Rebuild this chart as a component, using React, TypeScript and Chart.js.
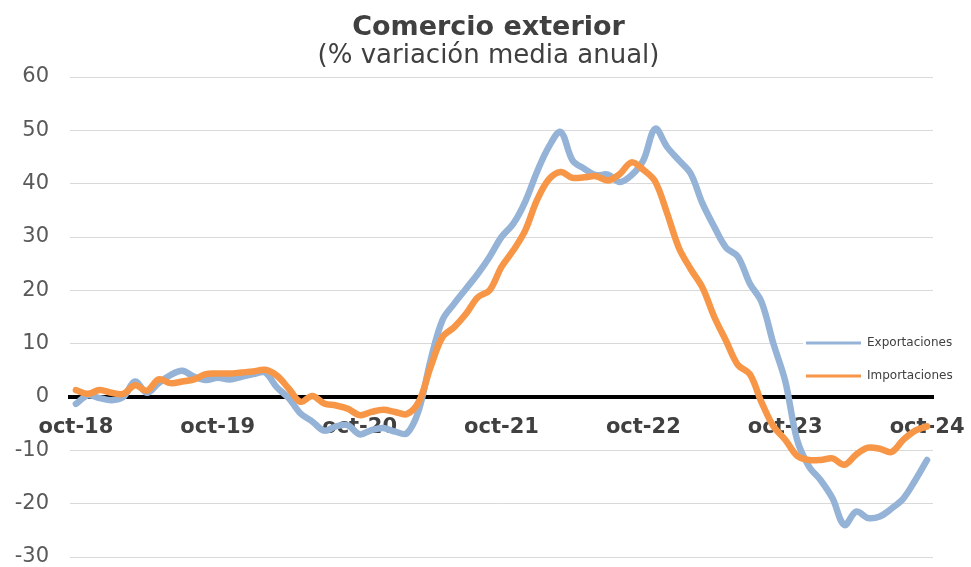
import React, { useEffect, useRef } from "react";
import { Chart, registerables } from "chart.js";

Chart.register(...registerables);

const monthNames = ["oct", "nov", "dic", "ene", "feb", "mar", "abr", "may", "jun", "jul", "ago", "sep"];
const startYear = 18;
const monthCount = 73;
const categories: string[] = [];
for (let i = 0; i < monthCount; i++) {
  const m = monthNames[i % 12];
  const yr = startYear + Math.floor((i + 9) / 12);
  categories.push(`${m}-${yr}`);
}

const exportaciones = [
  -1.3, 0.3, -0.2, -0.6, 0.0, 2.9, 0.8, 2.6, 4.1, 4.9, 3.8, 3.2,
  3.6, 3.3, 3.8, 4.3, 4.6, 1.8, -0.2, -3.1, -4.6, -6.3, -5.5, -5.3,
  -7.0, -6.2, -5.8, -6.5, -6.8, -2.5, 6.9, 14.4, 17.5, 20.3, 23.1, 26.3,
  30.0, 32.5, 36.6, 42.2, 46.9, 49.7, 44.4, 42.8, 41.6, 41.7, 40.3, 41.6,
  44.4, 50.3, 46.9, 44.4, 41.9, 36.3, 31.9, 28.0, 26.3, 21.3, 17.8, 10.0,
  3.0, -8.0, -13.0, -15.6, -19.0, -24.0, -21.5, -22.7, -22.4, -20.9, -19.0, -15.6,
  -11.8,
];

const importaciones = [
  1.3, 0.6, 1.3, 0.8, 0.6, 2.2, 1.2, 3.3, 2.6, 2.9, 3.3, 4.3,
  4.4, 4.4, 4.6, 4.8, 5.1, 4.0, 1.6, -0.9, 0.2, -1.2, -1.6, -2.2,
  -3.4, -2.8, -2.4, -2.8, -3.2, -0.9, 5.6, 11.2, 13.1, 15.6, 18.7, 20.0,
  24.4, 27.5, 31.2, 36.9, 40.8, 42.2, 41.1, 41.2, 41.4, 40.6, 41.8, 44.0,
  42.6, 40.4, 34.5, 28.0, 24.0, 20.5, 15.0, 10.5, 6.0, 4.3, -1.0, -5.5,
  -8.0, -11.0, -11.8, -11.8, -11.5, -12.7, -10.8, -9.5, -9.7, -10.3, -8.0, -6.3,
  -5.5,
];

const seriesNames = ["Exportaciones", "Importaciones"];
const seriesColors = ["rgb(149,179,215)", "rgb(247,150,70)"];

const FONT = "'DejaVu Sans', Verdana, sans-serif";

const legendPlugin = {
  id: "insideLegend",
  afterDatasetsDraw(chart: any) {
    const { ctx, chartArea } = chart;
    const x0 = chartArea.right - 127;
    const ys = [343, 376];
    ctx.save();
    ctx.fillStyle = "#ffffff";
    ctx.fillRect(x0 - 3, 332, 160, 56);
    chart.data.datasets.forEach((ds: any, k: number) => {
      const y = ys[k];
      ctx.strokeStyle = ds.borderColor;
      ctx.lineWidth = 3;
      ctx.beginPath();
      ctx.moveTo(x0, y);
      ctx.lineTo(x0 + 55, y);
      ctx.stroke();
      ctx.fillStyle = "#404040";
      ctx.font = `12px ${FONT}`;
      ctx.textBaseline = "middle";
      ctx.textAlign = "left";
      ctx.fillText(ds.label, x0 + 61, y);
    });
    ctx.restore();
  },
};

export default function App() {
  const canvasRef = useRef<HTMLCanvasElement>(null);

  useEffect(() => {
    const canvas = canvasRef.current;
    if (!canvas) return;
    const chart = new Chart(canvas, {
      type: "line",
      data: {
        labels: categories,
        datasets: [
          {
            label: seriesNames[0],
            data: exportaciones,
            borderColor: seriesColors[0],
            backgroundColor: seriesColors[0],
            borderWidth: 6.5,
            pointRadius: 0,
            tension: 0.35,
            borderCapStyle: "round",
            borderJoinStyle: "round",
            order: 1,
          },
          {
            label: seriesNames[1],
            data: importaciones,
            borderColor: seriesColors[1],
            backgroundColor: seriesColors[1],
            borderWidth: 6.5,
            pointRadius: 0,
            tension: 0.35,
            borderCapStyle: "round",
            borderJoinStyle: "round",
            order: 0,
          },
        ],
      },
      options: {
        responsive: false,
        animation: false,
        layout: { padding: { left: 6, right: 0, top: 0, bottom: 10 } },
        plugins: {
          legend: { display: false },
          tooltip: { enabled: false },
          title: {
            display: true,
            text: "Comercio exterior",
            color: "#404040",
            font: { family: FONT, size: 27, weight: "bold", lineHeight: 1 },
            padding: { top: 14, bottom: 0 },
          },
          subtitle: {
            display: true,
            text: "(% variación media anual)",
            color: "#404040",
            font: { family: FONT, size: 26, lineHeight: 1 },
            padding: { top: 2, bottom: 8 },
          },
        },
        scales: {
          x: {
            type: "category",
            position: { y: 0 } as any,
            offset: true,
            grid: { display: false, drawTicks: false },
            border: { display: true, color: "#000000", width: 4 },
            ticks: {
              autoSkip: false,
              maxRotation: 0,
              minRotation: 0,
              padding: 18,
              color: "#404040",
              font: { family: FONT, size: 21, weight: "bold" },
              callback: (_v: any, i: number) => (i % 12 === 0 ? categories[i] : ""),
            },
            afterFit: (scale: any) => {
              scale.height = 0;
              scale.paddingLeft = 0;
              scale.paddingRight = 0;
              scale.paddingTop = 0;
              scale.paddingBottom = 0;
            },
          },
          y: {
            min: -30,
            max: 60,
            grid: { color: "rgb(217,217,217)", lineWidth: 1, drawTicks: false },
            border: { display: false },
            ticks: {
              stepSize: 10,
              padding: 21,
              color: "#595959",
              font: { family: FONT, size: 21 },
            },
            afterFit: (scale: any) => {
              scale.width = 64;
              scale.paddingTop = 0;
              scale.paddingBottom = 0;
            },
          },
          y2: {
            position: "right",
            display: true,
            min: -30,
            max: 60,
            grid: { display: false, drawTicks: false },
            border: { display: false },
            ticks: { display: false },
            afterFit: (scale: any) => {
              scale.width = 38;
              scale.paddingTop = 0;
              scale.paddingBottom = 0;
            },
          },
        },
      },
      plugins: [legendPlugin],
    });
    return () => chart.destroy();
  }, []);

  return (
    <div style={{ position: "absolute", left: 0, top: 0, width: 971, height: 567, background: "#fff" }}>
      <canvas ref={canvasRef} width={971} height={567} style={{ display: "block" }} />
    </div>
  );
}
